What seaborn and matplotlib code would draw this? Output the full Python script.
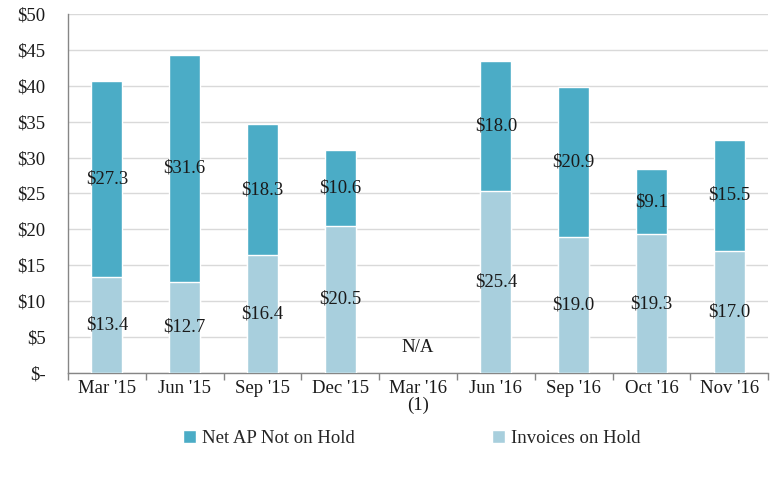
import matplotlib
matplotlib.use("Agg")
import matplotlib.pyplot as plt
from matplotlib.patches import Patch
from matplotlib.ticker import FixedLocator
import seaborn as sns
import pandas as pd

# Chart data (values in $ millions)
categories = ["Mar '15", "Jun '15", "Sep '15", "Dec '15", "Mar '16\n(1)",
              "Jun '16", "Sep '16", "Oct '16", "Nov '16"]
invoices_on_hold = [13.4, 12.7, 16.4, 20.5, None, 25.4, 19.0, 19.3, 17.0]
net_ap_not_on_hold = [27.3, 31.6, 18.3, 10.6, None, 18.0, 20.9, 9.1, 15.5]
y_ticks = [0, 5, 10, 15, 20, 25, 30, 35, 40, 45, 50]

dark = "#4BACC6"
light = "#A8CFDD"

sns.set_style("white")
plt.rcParams["font.family"] = ["Liberation Serif", "DejaVu Serif"]

df = pd.DataFrame({
    "period": categories,
    "hold": invoices_on_hold,
    "net": net_ap_not_on_hold,
}).dropna()
df["total"] = df["hold"] + df["net"]

fig = plt.figure(figsize=(7.78, 4.79), dpi=100)
ax = fig.add_axes([0.0874, 0.2213, 0.9, 0.7495])

# stacked bars: totals first, then the bottom segment over them
sns.barplot(data=df, x="period", y="total", order=categories, color=dark,
            saturation=1, width=0.4, ax=ax, zorder=2)
sns.barplot(data=df, x="period", y="hold", order=categories, color=light,
            saturation=1, width=0.4, ax=ax, zorder=3)

# segment labels
fs = 13.5
for _, row in df.iterrows():
    i = categories.index(row["period"])
    ax.text(i, row["hold"] / 2, f"${row['hold']:.1f}", ha="center", va="center",
            fontsize=fs, color="#1a1a1a", zorder=4)
    ax.text(i, row["hold"] + row["net"] / 2, f"${row['net']:.1f}", ha="center",
            va="center", fontsize=fs, color="#1a1a1a", zorder=4)
ax.text(categories.index("Mar '16\n(1)"), 3.5, "N/A", ha="center", va="center",
        fontsize=fs, color="#1a1a1a")

# axes formatting
ax.set_ylim(0, 50)
ax.set_xlim(-0.5, len(categories) - 0.5)
ax.set_yticks(y_ticks)
ax.set_yticklabels(["$-" if v == 0 else f"${v}" for v in y_ticks])
ax.yaxis.grid(True, color="#D9D9D9", linewidth=1)
ax.set_axisbelow(True)
ax.set_xlabel("")
ax.set_ylabel("")

ax.xaxis.set_minor_locator(FixedLocator([i - 0.5 for i in range(len(categories) + 1)]))
ax.tick_params(axis="x", which="major", length=0, labelsize=fs, pad=5, colors="#1a1a1a")
ax.tick_params(axis="x", which="minor", length=5, width=1, color="#868686", direction="out")
ax.tick_params(axis="y", length=5, width=1, color="#868686", direction="out",
               labelsize=fs, labelcolor="#1a1a1a", pad=11)
ax.tick_params(axis="x", which="both", bottom=True)
for lbl in ax.get_xticklabels():
    lbl.set_linespacing(0.95)

sns.despine(ax=ax, top=True, right=True)
for side in ["left", "bottom"]:
    ax.spines[side].set_color("#868686")
    ax.spines[side].set_linewidth(1)

handles = [Patch(facecolor=dark, label="Net AP Not on Hold"),
           Patch(facecolor=light, label="Invoices on Hold")]
fig.legend(handles=handles, loc="center", bbox_to_anchor=(0.529, 0.085), ncol=2,
           frameon=False, fontsize=fs, handlelength=0.7, handleheight=0.7,
           handletextpad=0.3, columnspacing=7.35)

fig.savefig("out.png", dpi=100)
